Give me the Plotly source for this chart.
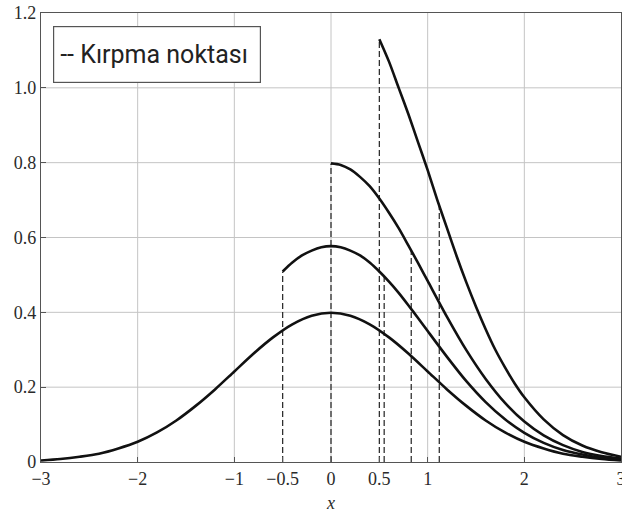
import numpy as np
import plotly.graph_objects as go

# Standard normal density and its left-truncated versions
x_full = [-3.0, -2.8, -2.6, -2.4, -2.2, -2.0, -1.8, -1.6, -1.4, -1.2, -1.0, -0.8, -0.6, -0.4, -0.2,
          0.0, 0.2, 0.4, 0.6, 0.8, 1.0, 1.2, 1.4, 1.6, 1.8, 2.0, 2.2, 2.4, 2.6, 2.8, 3.0]
pdf_full = [0.004, 0.008, 0.014, 0.022, 0.036, 0.054, 0.079, 0.111, 0.150, 0.194, 0.242, 0.290,
            0.333, 0.368, 0.391, 0.399, 0.391, 0.368, 0.333, 0.290, 0.242, 0.194, 0.150, 0.111,
            0.079, 0.054, 0.036, 0.022, 0.014, 0.008, 0.004]

x_cut_m05 = [-0.5, -0.4, -0.3, -0.2, -0.1, 0.0, 0.1, 0.2, 0.3, 0.4, 0.5, 0.6, 0.7, 0.8, 0.9,
             1.0, 1.2, 1.4, 1.6, 1.8, 2.0, 2.2, 2.4, 2.6, 2.8, 3.0]
pdf_cut_m05 = [0.509, 0.533, 0.552, 0.565, 0.574, 0.577, 0.574, 0.565, 0.552, 0.533, 0.509,
               0.482, 0.452, 0.419, 0.385, 0.350, 0.281, 0.216, 0.160, 0.114, 0.078, 0.051,
               0.032, 0.020, 0.011, 0.006]

x_cut_0 = [0.0, 0.1, 0.2, 0.3, 0.4, 0.5, 0.6, 0.7, 0.8, 0.9, 1.0, 1.2, 1.4, 1.6, 1.8, 2.0,
           2.2, 2.4, 2.6, 2.8, 3.0]
pdf_cut_0 = [0.798, 0.794, 0.782, 0.762, 0.737, 0.704, 0.666, 0.625, 0.579, 0.532, 0.484,
             0.388, 0.299, 0.222, 0.158, 0.108, 0.071, 0.045, 0.027, 0.016, 0.009]

x_cut_05 = [0.5, 0.6, 0.7, 0.8, 0.9, 1.0, 1.1, 1.2, 1.3, 1.4, 1.5, 1.6, 1.7, 1.8, 1.9, 2.0,
            2.2, 2.4, 2.6, 2.8, 3.0]
pdf_cut_05 = [1.13, 1.07, 1.00, 0.93, 0.855, 0.78, 0.70, 0.625, 0.55, 0.48, 0.415, 0.355,
              0.30, 0.253, 0.21, 0.173, 0.114, 0.072, 0.044, 0.026, 0.014]

# Means of the truncated densities (marked with dashed lines)
trunc_means = [0.55, 0.83, 1.12]

x_tick_vals = [-3, -2, -1, -0.5, 0, 0.5, 1, 2, 3]
x_tick_text = ["\u22123", "\u22122", "\u22121", "\u22120.5", "0", "0.5", "1", "2", "3"]
y_tick_vals = [0, 0.2, 0.4, 0.6, 0.8, 1.0, 1.2]
y_tick_text = ["0", "0.2", "0.4", "0.6", "0.8", "1.0", "1.2"]
grid_x = [-2, -1, 0, 1, 2]
grid_y = [0.2, 0.4, 0.6, 0.8, 1.0]

truncated = [(x_cut_m05, pdf_cut_m05), (x_cut_0, pdf_cut_0), (x_cut_05, pdf_cut_05)]

fig = go.Figure()

dash_style = dict(color="#222222", width=1.2, dash="6px,3px")

# dashed drop lines at cut points and at truncated means
for (xs, ys), m in zip(truncated, trunc_means):
    fig.add_trace(go.Scatter(x=[xs[0], xs[0]], y=[0, ys[0]], mode="lines",
                             line=dash_style, hoverinfo="skip"))
    top = float(np.interp(m, xs, ys))
    fig.add_trace(go.Scatter(x=[m, m], y=[0, top], mode="lines",
                             line=dash_style, hoverinfo="skip"))

curve_style = dict(color="#111111", width=2.6, shape="spline", smoothing=0.8)
for xs, ys in [(x_full, pdf_full)] + truncated:
    fig.add_trace(go.Scatter(x=xs, y=ys, mode="lines", line=curve_style))

grid_color = "#c4c4c4"
for gx in grid_x:
    fig.add_shape(type="line", xref="x", yref="paper", x0=gx, x1=gx, y0=0, y1=1,
                  line=dict(color=grid_color, width=1), layer="below")
for gy in grid_y:
    fig.add_shape(type="line", xref="paper", yref="y", x0=0, x1=1, y0=gy, y1=gy,
                  line=dict(color=grid_color, width=1), layer="below")

fig.add_annotation(
    xref="paper", yref="paper", x=0.0207, y=0.971, xanchor="left", yanchor="top",
    text="-- Kırpma noktası", showarrow=False, align="left", valign="middle",
    width=194, height=43,
    font=dict(family="Roboto", size=25, color="#222222"),
    bordercolor="#555555", borderwidth=1.2, borderpad=6, bgcolor="white",
)

serif = "Liberation Serif, DejaVu Serif, Times New Roman, serif"
tick_font = dict(family=serif, size=18, color="#2a2a2a")
fig.update_layout(
    width=622, height=516,
    margin=dict(l=41, r=1, t=13, b=54, autoexpand=False),
    paper_bgcolor="white", plot_bgcolor="white",
    showlegend=False,
    font=dict(family=serif, size=18, color="#2a2a2a"),
    xaxis=dict(
        range=[-3, 3], tickmode="array", tickvals=x_tick_vals, ticktext=x_tick_text,
        tickfont=tick_font, ticklabeloverflow="allow", automargin=False,
        showgrid=False, zeroline=False, showline=True, mirror=True,
        linecolor="#555555", linewidth=1.2, ticks="inside", ticklen=5, tickcolor="#555555",
        title=dict(text="<i>x</i>", standoff=8, font=dict(family=serif, size=18, color="#2a2a2a")),
    ),
    yaxis=dict(
        range=[0, 1.2], tickmode="array", tickvals=y_tick_vals, ticktext=y_tick_text,
        tickfont=tick_font, automargin=False,
        showgrid=False, zeroline=False, showline=True, mirror=True,
        linecolor="#555555", linewidth=1.2, ticks="inside", ticklen=5, tickcolor="#555555",
    ),
)

fig.write_html("out.html")
